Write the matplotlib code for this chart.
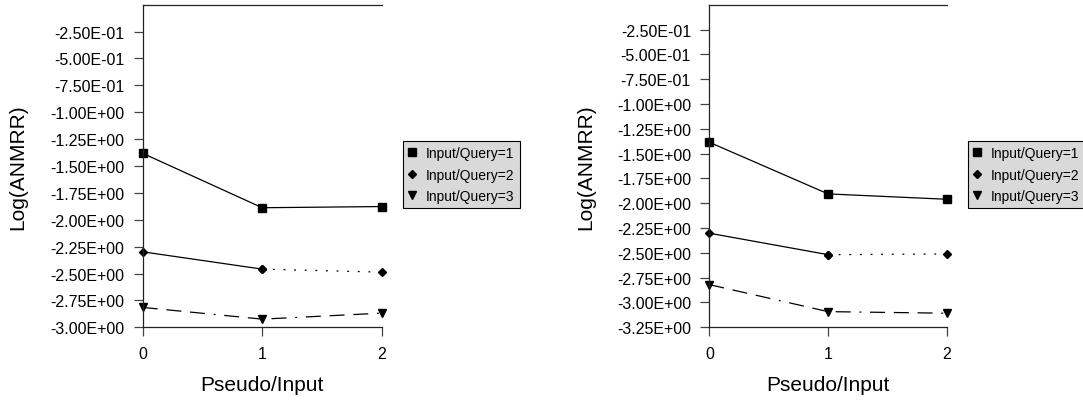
import numpy as np
import matplotlib
matplotlib.use('Agg')
import matplotlib.pyplot as plt
from matplotlib.ticker import FormatStrFormatter

plt.rcParams['font.family'] = ['Liberation Sans', 'DejaVu Sans']

x = [0, 1, 2]
labels = ['Input/Query=1', 'Input/Query=2', 'Input/Query=3']

# left chart
left_q1 = [-1.382, -1.888, -1.877]
left_q2 = [-2.298, -2.459, -2.487]
left_q3 = [-2.815, -2.924, -2.868]
left_yticks = [-0.25, -0.5, -0.75, -1.0, -1.25, -1.5, -1.75, -2.0,
               -2.25, -2.5, -2.75, -3.0]

# right chart
right_q1 = [-1.386, -1.906, -1.960]
right_q2 = [-2.302, -2.518, -2.511]
right_q3 = [-2.820, -3.092, -3.108]
right_yticks = left_yticks + [-3.25]

dashdot = (0, (12, 7, 12, 7, 12, 7, 1.5, 7))
dotted = (0, (1.5, 7))


def draw(ax, q1, q2, q3, yticks, ylab_x):
    lw = 0.9
    h1, = ax.plot(x, q1, color='black', lw=lw, marker='s', ms=5.5, clip_on=False)
    h2, = ax.plot(x[:2], q2[:2], color='black', lw=lw, marker='D', ms=3.6, clip_on=False)
    ax.plot(x[1:], q2[1:], color='black', lw=lw, linestyle=dotted, marker='D', ms=3.6,
            clip_on=False)
    h3, = ax.plot(x, q3, color='black', lw=lw, linestyle=dashdot, marker='v', ms=6,
                  clip_on=False)

    ax.set_xlim(0, 2)
    ax.set_ylim(yticks[-1], 0)
    ax.set_xticks(x)
    ax.set_yticks(yticks)
    ax.yaxis.set_major_formatter(FormatStrFormatter('%.2E'))
    ax.tick_params(direction='out', length=6.8, width=0.9, pad=6.5, labelsize=11.5,
                   color='#444444')
    ax.spines['right'].set_visible(False)
    for s in ['left', 'top', 'bottom']:
        ax.spines[s].set_linewidth(0.9)
        ax.spines[s].set_color('#222222')

    ax.set_ylabel('Log(ANMRR)', fontsize=15)
    ax.set_xlabel('Pseudo/Input', fontsize=15)
    ax.yaxis.set_label_coords(ylab_x, 0.5)
    ax.xaxis.set_label_coords(0.5, -0.148)

    leg = ax.legend([h1, h2, h3], labels, loc='upper left',
                    bbox_to_anchor=(1.09, 0.577), borderaxespad=0,
                    fontsize=10, handlelength=0.6, handletextpad=0.7,
                    labelspacing=0.55, borderpad=0.35, fancybox=False,
                    framealpha=1, facecolor='#d9d9d9', edgecolor='black')
    leg.get_frame().set_linewidth(0.8)
    for h in leg.legend_handles:
        h.set_linestyle('none')


fig = plt.figure(figsize=(10.83, 4.02), dpi=100)
ax1 = fig.add_axes([0.1318, 0.1833, 0.2207, 0.8025])
ax2 = fig.add_axes([0.655, 0.1833, 0.2192, 0.8025])

draw(ax1, left_q1, left_q2, left_q3, left_yticks, -0.484)
draw(ax2, right_q1, right_q2, right_q3, right_yticks, -0.479)

fig.savefig('out.png', dpi=100)
